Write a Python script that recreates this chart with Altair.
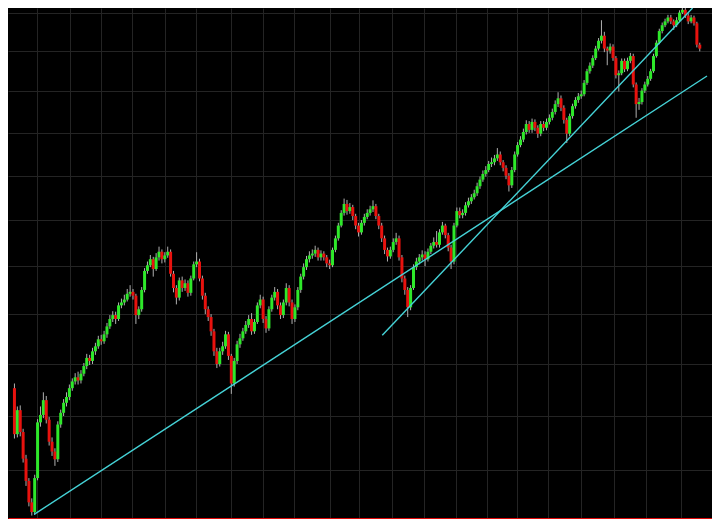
import altair as alt
import pandas as pd

# ---- data (daily candles, log price scale) ----
first_open = 2353
closes = [
    2266, 2311, 2270, 2221, 2181, 2143, 2126, 2186, 2288, 2302,
    2330, 2293, 2252, 2234, 2220, 2284, 2306, 2325, 2336, 2353,
    2366, 2374, 2368, 2381, 2396, 2412, 2406, 2425, 2435, 2449,
    2445, 2459, 2475, 2490, 2498, 2490, 2518, 2524, 2530, 2542,
    2546, 2538, 2498, 2510, 2550, 2590, 2602, 2615, 2594, 2619,
    2631, 2615, 2623, 2631, 2584, 2554, 2534, 2570, 2554, 2564,
    2544, 2574, 2604, 2610, 2574, 2538, 2510, 2494, 2465, 2425,
    2400, 2425, 2435, 2459, 2416, 2362, 2406, 2439, 2451, 2465,
    2478, 2490, 2465, 2484, 2518, 2530, 2490, 2471, 2510, 2534,
    2546, 2518, 2498, 2524, 2554, 2524, 2490, 2514, 2550, 2578,
    2598, 2615, 2623, 2627, 2635, 2619, 2627, 2619, 2606, 2602,
    2635, 2660, 2688, 2716, 2736, 2720, 2729, 2709, 2688, 2673,
    2694, 2707, 2716, 2724, 2731, 2709, 2688, 2660, 2635, 2621,
    2635, 2652, 2660, 2619, 2574, 2550, 2514, 2554, 2598, 2610,
    2619, 2625, 2615, 2631, 2644, 2652, 2646, 2673, 2688, 2667,
    2640, 2610, 2688, 2720, 2711, 2716, 2733, 2742, 2751, 2760,
    2776, 2791, 2804, 2813, 2827, 2831, 2840, 2849, 2831, 2818,
    2800, 2778, 2813, 2849, 2871, 2884, 2902, 2921, 2907, 2926,
    2912, 2898, 2921, 2912, 2926, 2936, 2950, 2969, 2983, 2960,
    2931, 2898, 2940, 2964, 2979, 2988, 2993, 3021, 3050, 3064,
    3083, 3107, 3127, 3140, 3107, 3102, 3112, 3083, 3040, 3045,
    3076, 3055, 3076, 3088, 3017, 2969, 2974, 3002, 3017, 3031,
    3050, 3088, 3122, 3152, 3167, 3177, 3187, 3177, 3167, 3180,
    3200, 3207, 3192, 3177, 3187, 3172, 3117, 3107,
]
highs = [
    2362, 2318, 2320, 2276, 2228, 2186, 2150, 2192, 2294, 2318,
    2345, 2338, 2298, 2260, 2240, 2290, 2312, 2332, 2345, 2360,
    2372, 2382, 2385, 2388, 2402, 2420, 2418, 2432, 2442, 2456,
    2458, 2466, 2482, 2498, 2506, 2505, 2524, 2532, 2540, 2552,
    2560, 2552, 2542, 2516, 2556, 2596, 2610, 2624, 2620, 2628,
    2642, 2636, 2630, 2642, 2636, 2590, 2560, 2576, 2578, 2572,
    2570, 2580, 2610, 2630, 2616, 2580, 2544, 2516, 2500, 2470,
    2432, 2432, 2444, 2466, 2464, 2420, 2412, 2446, 2460, 2472,
    2486, 2498, 2502, 2490, 2524, 2540, 2536, 2496, 2516, 2540,
    2556, 2552, 2524, 2530, 2564, 2560, 2530, 2520, 2556, 2584,
    2606, 2622, 2632, 2636, 2644, 2640, 2634, 2632, 2624, 2614,
    2640, 2666, 2694, 2722, 2748, 2745, 2738, 2734, 2714, 2694,
    2700, 2714, 2724, 2732, 2744, 2736, 2714, 2694, 2666, 2640,
    2642, 2660, 2672, 2666, 2624, 2580, 2556, 2560, 2604, 2618,
    2626, 2634, 2632, 2638, 2650, 2662, 2676, 2680, 2696, 2692,
    2672, 2646, 2694, 2728, 2728, 2724, 2740, 2750, 2758, 2768,
    2784, 2798, 2812, 2822, 2834, 2842, 2848, 2864, 2856, 2836,
    2824, 2806, 2820, 2856, 2878, 2892, 2910, 2930, 2928, 2934,
    2932, 2918, 2928, 2928, 2934, 2944, 2958, 2978, 2998, 2990,
    2966, 2936, 2946, 2970, 2986, 2996, 3002, 3028, 3056, 3072,
    3090, 3114, 3134, 3180, 3150, 3112, 3120, 3118, 3088, 3052,
    3082, 3082, 3084, 3096, 3094, 3022, 2984, 3008, 3024, 3038,
    3056, 3094, 3128, 3158, 3174, 3184, 3194, 3194, 3182, 3188,
    3206, 3212, 3212, 3198, 3194, 3192, 3176, 3122,
]
lows = [
    2258, 2260, 2262, 2214, 2172, 2136, 2120, 2121, 2182, 2280,
    2296, 2286, 2245, 2226, 2208, 2215, 2278, 2300, 2318, 2330,
    2348, 2360, 2360, 2362, 2376, 2390, 2398, 2400, 2418, 2430,
    2438, 2440, 2452, 2470, 2484, 2480, 2486, 2512, 2518, 2526,
    2536, 2530, 2480, 2490, 2505, 2545, 2584, 2598, 2578, 2590,
    2612, 2606, 2608, 2618, 2578, 2545, 2520, 2528, 2546, 2548,
    2536, 2538, 2570, 2598, 2568, 2530, 2500, 2486, 2456, 2416,
    2392, 2395, 2418, 2430, 2408, 2342, 2356, 2400, 2432, 2446,
    2460, 2472, 2458, 2460, 2480, 2512, 2482, 2462, 2466, 2505,
    2528, 2510, 2490, 2492, 2518, 2516, 2480, 2484, 2508, 2544,
    2572, 2592, 2608, 2616, 2620, 2612, 2612, 2612, 2598, 2594,
    2598, 2630, 2655, 2684, 2710, 2712, 2714, 2700, 2680, 2664,
    2668, 2688, 2702, 2710, 2718, 2702, 2680, 2652, 2626, 2610,
    2616, 2630, 2646, 2612, 2566, 2540, 2494, 2508, 2550, 2592,
    2604, 2612, 2600, 2610, 2626, 2638, 2640, 2640, 2668, 2660,
    2632, 2594, 2604, 2684, 2704, 2704, 2710, 2728, 2736, 2746,
    2754, 2770, 2786, 2798, 2808, 2820, 2824, 2834, 2824, 2810,
    2792, 2764, 2772, 2808, 2844, 2866, 2878, 2896, 2900, 2900,
    2904, 2888, 2892, 2904, 2906, 2920, 2930, 2944, 2962, 2952,
    2922, 2876, 2892, 2934, 2958, 2972, 2982, 2988, 3016, 3044,
    3058, 3078, 3102, 3120, 3098, 3065, 3094, 3076, 3032, 3000,
    3040, 3048, 3050, 3070, 3010, 2936, 2955, 2968, 2996, 3012,
    3026, 3046, 3084, 3118, 3146, 3162, 3172, 3170, 3155, 3162,
    3176, 3196, 3186, 3170, 3172, 3166, 3110, 3100,
]

# month-start positions (in candle index units) and price grid levels
month_starts = [7.8, 19.2, 29.8, 40.5, 52.2, 62.8, 74.8, 85.8, 96.8, 109.2,
                119.2, 130.5, 141.8, 152.8, 163.5, 173.8, 184.5, 195.8, 207.5,
                218.5, 230.5]
price_levels = [2200, 2300, 2400, 2500, 2600, 2700, 2800, 2900, 3000, 3100, 3200]

# trend lines: start / end (candle index, price)
trend_x1 = [6.8, 127.2]
trend_p1 = [2122, 2457]
trend_x2 = [239.5, 234.5]
trend_p2 = [3038, 3212]

x_domain = [-0.5, 239.5]
y_domain = [2114, 3212]

# ---- build tables ----
opens = [first_open] + closes[:-1]
candles = pd.DataFrame({
    "i": list(range(len(closes))),
    "open": opens,
    "close": closes,
    "high": highs,
    "low": lows,
})
candles["dir"] = ["up" if c >= o else "down" for o, c in zip(opens, closes)]

trends = pd.DataFrame({"x1": trend_x1, "p1": trend_p1, "x2": trend_x2, "p2": trend_p2})

GRID = "#242424"
xscale = alt.Scale(domain=x_domain, nice=False, zero=False)
yscale = alt.Scale(type="log", domain=y_domain, nice=False, zero=False)
xaxis = alt.Axis(values=month_starts, labels=False, ticks=False, grid=True,
                 gridColor=GRID, gridWidth=1, domain=True, domainColor="#dd0a0a",
                 domainWidth=3, title=None)
yaxis = alt.Axis(values=price_levels, labels=False, ticks=False, grid=True,
                 gridColor=GRID, gridWidth=1, domain=False, title=None)

base = alt.Chart(candles)

wicks = base.mark_rule(color="#b0b0b0", strokeWidth=1, clip=True).encode(
    x=alt.X("i:Q", scale=xscale, axis=xaxis),
    y=alt.Y("low:Q", scale=yscale, axis=yaxis),
    y2="high:Q",
)

bodies = base.mark_bar(size=3, clip=True).encode(
    x=alt.X("i:Q", scale=xscale, axis=xaxis),
    y=alt.Y("open:Q", scale=yscale, axis=yaxis),
    y2="close:Q",
    color=alt.Color("dir:N", scale=alt.Scale(domain=["up", "down"],
                                             range=["#2ee82a", "#e8120e"]),
                    legend=None),
)

lines = alt.Chart(trends).mark_rule(color="#45d2d6", strokeWidth=1.4, clip=True).encode(
    x=alt.X("x1:Q", scale=xscale, axis=xaxis),
    x2="x2:Q",
    y=alt.Y("p1:Q", scale=yscale, axis=yaxis),
    y2="p2:Q",
)

chart = alt.layer(wicks, bodies, lines).properties(
    width=704,
    height=511,
    autosize=alt.AutoSizeParams(type="fit", contains="padding"),
    padding=0,
    background="#000000",
).configure_view(stroke=None)

chart.save("out.html", embed_options={"renderer": "svg", "actions": False})
